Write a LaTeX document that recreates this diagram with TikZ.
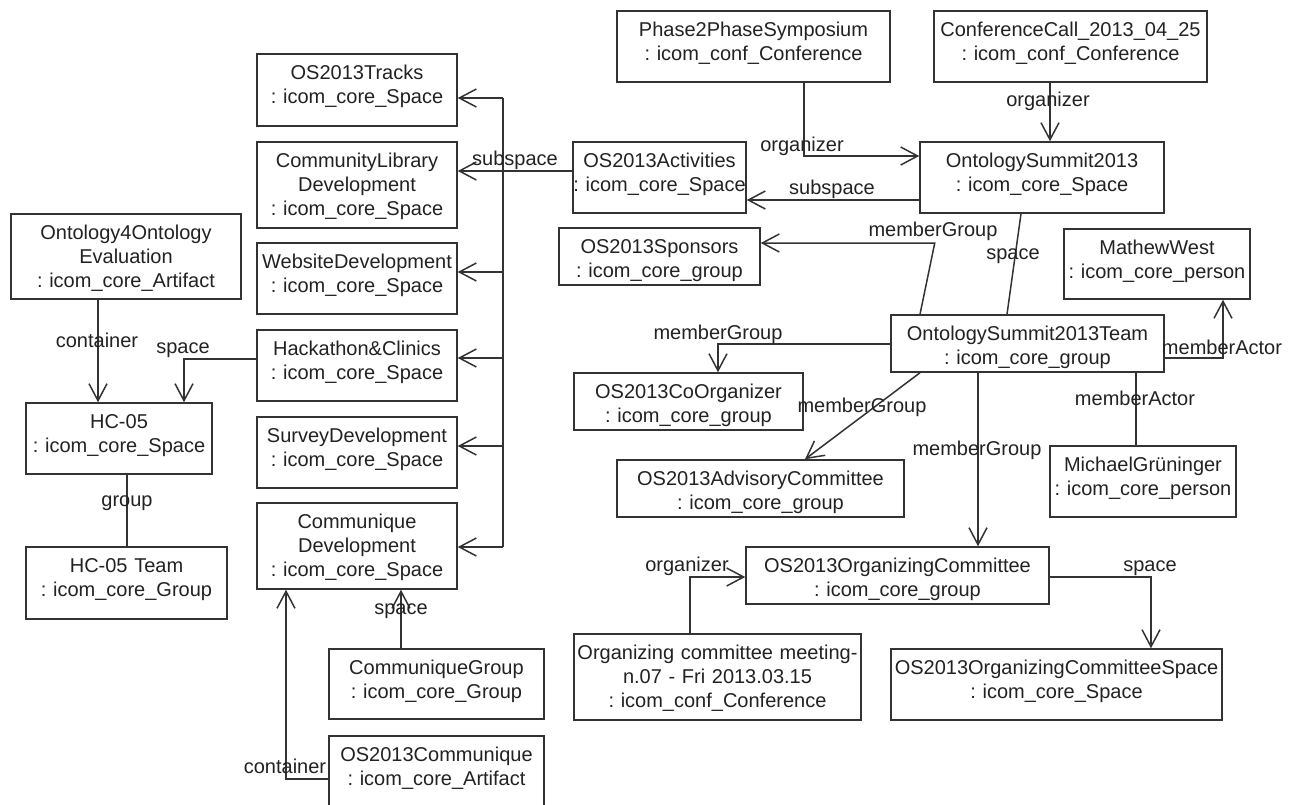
\documentclass[tikz,border=0pt]{standalone}
\usepackage{fontspec}
\setmainfont{Liberation Sans}
\usetikzlibrary{arrows.meta, calc}
\definecolor{umlGray}{RGB}{51,51,51}
\definecolor{umlText}{RGB}{34,34,34}
\hyphenpenalty=10000
\exhyphenpenalty=10000
\frenchspacing

\begin{document}
\begin{tikzpicture}[x=1pt, y=-1pt,
    font=\fontsize{20}{24}\selectfont,
    obj/.style 2 args={rectangle, draw=umlGray, line width=1.5pt, fill=white, inner sep=0pt, text width=#1pt, align=center, text height=25pt, text depth=#2pt, text=umlText},
    lbl/.style={inner sep=0pt, text height=14.5pt, text depth=4.2pt, text=umlText},
    conn/.style={draw=umlGray, line width=1.5pt},
    arr/.style={conn, -{Straight Barb[length=17pt, width=18pt]}}
  ]
    \fill[white] (0,0) rectangle (1291,804);
    \useasboundingbox (0,0) rectangle (1291,804);
    \clip (0,0) rectangle (1291,804);

    % spaces of the activities column
    \node[obj={200}{47}] (tracks) at (357,90) {OS2013Tracks\\: icom\_core\_Space};
    \node[obj={200}{61}] (commlib) at (357,185) {CommunityLibrary\\Development\\: icom\_core\_Space};
    \node[obj={200}{46}] (website) at (357,278.5) {WebsiteDevelopment\\: icom\_core\_Space};
    \node[obj={200}{46}] (hack) at (357,365.5) {Hackathon\&Clinics\\: icom\_core\_Space};
    \node[obj={200}{46}] (survey) at (357,452.5) {SurveyDevelopment\\: icom\_core\_Space};
    \node[obj={200}{61}] (commdev) at (357,546) {Communique\\Development\\: icom\_core\_Space};
    \node[obj={215}{45}] (commgroup) at (436.5,684) {CommuniqueGroup\\: icom\_core\_Group};
    \node[obj={215}{46}] (communique) at (436.5,771.5) {OS2013Communique\\: icom\_core\_Artifact};

    % hackathon side
    \node[obj={230}{60}] (o4o) at (126,256.5) {Ontology4Ontology\\Evaluation\\: icom\_core\_Artifact};
    \node[obj={186}{46}] (hc05) at (119,438.5) {HC-05\\: icom\_core\_Space};
    \node[obj={201}{47}] (hc05team) at (126.5,583) {HC-05 Team\\: icom\_core\_Group};

    % summit
    \node[obj={173}{46}] (activities) at (659.5,177.5) {OS2013Activities\\:~icom\_core\_Space};
    \node[obj={201}{32}] (sponsors) at (659.5,256.5) {OS2013Sponsors\\: icom\_core\_group};
    \node[obj={273}{46}] (p2p) at (753.5,46.5) {Phase2PhaseSymposium\\: icom\_conf\_Conference};
    \node[obj={273}{46}] (confcall) at (1070.5,46.5) {ConferenceCall\_2013\_04\_25\\: icom\_conf\_Conference};
    \node[obj={244}{46}] (summit) at (1042,177.5) {OntologySummit2013\\: icom\_core\_Space};
    \node[obj={186}{45}] (mathew) at (1157,264) {MathewWest\\: icom\_core\_person};
    \node[obj={273}{32}] (team) at (1027.5,343.5) {OntologySummit2013Team\\: icom\_core\_group};
    \node[obj={229}{32}] (coorg) at (688.5,401.5) {OS2013CoOrganizer\\: icom\_core\_group};
    \node[obj={287}{32}] (advisory) at (760.5,488.5) {OS2013AdvisoryCommittee\\: icom\_core\_group};
    \node[obj={186}{46}] (michael) at (1143,481.5) {MichaelGrüninger\\: icom\_core\_person};
    \node[obj={303}{32}] (orgcom) at (897.5,575.5) {OS2013OrganizingCommittee\\: icom\_core\_group};
    \node[obj={287}{61}] (meeting) at (717.5,677) {Organizing committee meeting-\\n.07 - Fri 2013.03.15\\: icom\_conf\_Conference};
    \node[obj={331}{46}] (orgspace) at (1056.5,684.5) {OS2013OrganizingCommitteeSpace\\: icom\_core\_Space};

    % links
    \draw[arr] ($(o4o.south)+(-28,0)$) -- ($(hc05.north)+(-21,0)$);
    \draw[arr] ($(hack.west)+(0,-6.5)$) -| ($(hc05.north)+(65,0)$);
    \draw[conn] ($(hc05.south)+(8,0)$) -- ($(hc05team.north)+(0.5,0)$);
    \draw[arr] ($(activities.west)+(0,-6.5)$) -- ($(commlib.east)+(0,-14)$);
    \draw[conn] ($(tracks.east)+(45,8)$) -- ($(commdev.east)+(45,1)$);
    \foreach \n/\dy in {tracks/8, website/-6.5, hack/-7.5, survey/-6.5, commdev/1}
      \draw[arr] ($(\n.east)+(45,\dy)$) -- ($(\n.east)+(0,\dy)$);
    \draw[arr] ($(commgroup.north)+(-35.5,0)$) -- ($(commdev.south)+(44,0)$);
    \draw[arr] ($(communique.west)+(0,7.5)$) -| ($(commdev.south)+(-71,0)$);
    \draw[arr] ($(p2p.south)+(50.5,0)$) |- ($(summit.west)+(0,-21.5)$);
    \draw[arr] ($(summit.west)+(0,22.5)$) -- ($(activities.east)+(0,22.5)$);
    \draw[arr] ($(confcall.south)+(-20.5,0)$) -- ($(summit.north)+(8,0)$);
    \draw[conn] ($(summit.south)+(-21,0)$) -- ($(team.north)+(-20.5,0)$);
    \draw[arr] ($(team.north)+(-107.5,0)$) -- ($(sponsors.east)+(174,-13.5)$) -- ($(sponsors.east)+(0,-13.5)$);
    \draw[arr] ($(team.east)+(0,14.5)$) -| ($(mathew.south)+(66,0)$);
    \draw[arr] ($(team.west)+(0,0.5)$) -| ($(coorg.north)+(29.5,0)$);
    \draw[arr] ($(team.south)+(-107.5,0)$) -- ($(advisory.north)+(44.5,0)$);
    \draw[conn] ($(team.south)+(108.5,0)$) -- ($(michael.north)+(-7,0)$);
    \draw[arr] ($(team.south)+(-49.5,0)$) -- ($(orgcom.north)+(80.5,0)$);
    \draw[arr] ($(meeting.north)+(-27.5,0)$) |- ($(orgcom.west)+(0,1.5)$);
    \draw[arr] ($(orgcom.east)+(0,1.5)$) -| ($(orgspace.north)+(94.5,0)$);

    % role labels
    \node[lbl] (lbCont1) at (97,342) {container};
    \node[lbl] (lbSpace1) at (183,348) {space};
    \node[lbl] (lbGroup) at (127,501) {group};
    \node[lbl] (lbSub1) at (515,160) {subspace};
    \node[lbl] (lbSpace2) at (401,609) {space};
    \node[lbl] (lbCont2) at (285,768) {container};
    \node[lbl] (lbOrg1) at (802,146) {organizer};
    \node[lbl] (lbSub2) at (832,189) {subspace};
    \node[lbl] (lbOrg2) at (1048,101) {organizer};
    \node[lbl] (lbSpace3) at (1013,254) {space};
    \node[lbl] (lbMG1) at (933,231) {memberGroup};
    \node[lbl] (lbMA1) at (1222,349) {memberActor};
    \node[lbl] (lbMG2) at (718,334) {memberGroup};
    \node[lbl] (lbMG3) at (862,407) {memberGroup};
    \node[lbl] (lbMA2) at (1135,400) {memberActor};
    \node[lbl] (lbMG4) at (977,450) {memberGroup};
    \node[lbl] (lbOrg3) at (687,566) {organizer};
    \node[lbl] (lbSpace4) at (1150,566) {space};
  \end{tikzpicture}
\end{document}
